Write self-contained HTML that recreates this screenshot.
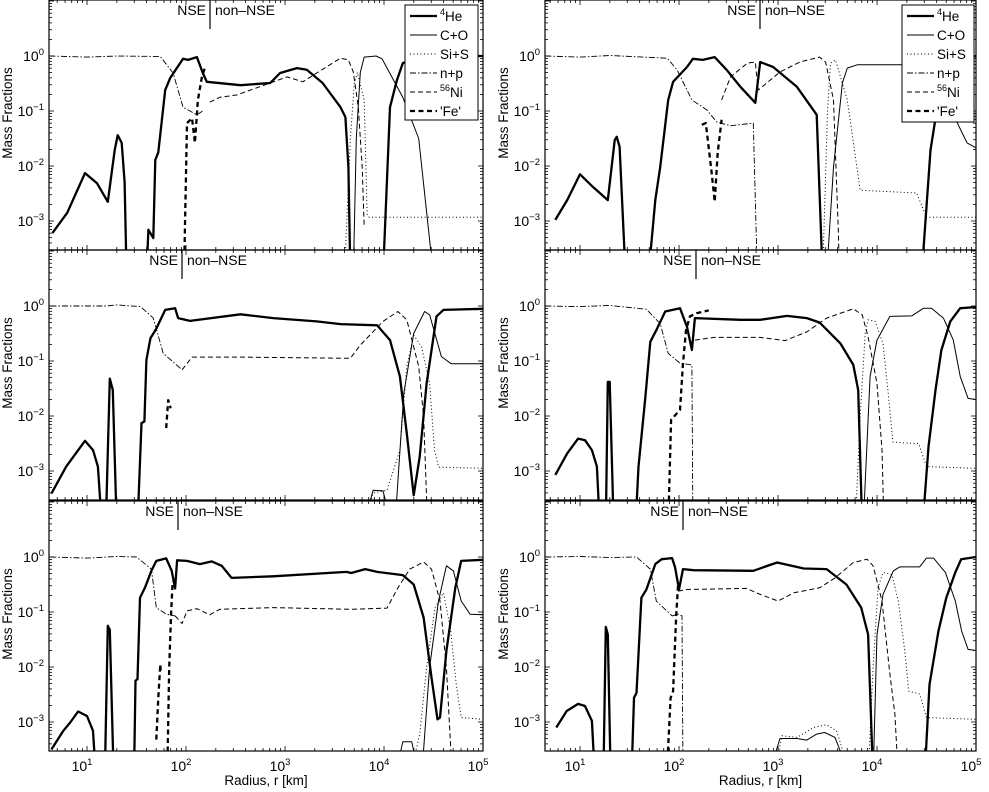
<!DOCTYPE html>
<html><head><meta charset="utf-8">
<style>
body{margin:0;background:#fff;}
svg{display:block;font-family:"Liberation Sans",sans-serif;}
</style></head>
<body>
<svg id="chart" width="989" height="792" xmlns="http://www.w3.org/2000/svg"></svg>
<script>
// Data: [log10 radius(km), log10 mass fraction]; null breaks a line
const p1_he=[[0.65,-3.22],[0.80,-2.85],[0.98,-2.13],[1.10,-2.31],[1.21,-2.65],[1.28,-1.71],[1.31,-1.44],[1.35,-1.58],[1.38,-2.29],[1.40,-4],null,[1.60,-4],[1.62,-3.16],[1.67,-3.31],[1.69,-1.89],[1.72,-1.75],[1.79,-0.62],[1.84,-0.40],[1.97,-0.05],[2.02,-0.07],[2.11,-0.02],[2.17,-0.31],[2.21,-0.47],[2.55,-0.53],[2.85,-0.49],[2.95,-0.31],[3.12,-0.22],[3.22,-0.25],[3.38,-0.49],[3.56,-0.93],[3.61,-1.11],[3.64,-2.02],[3.66,-4],null,[3.99,-4],[4.06,-0.93],[4.13,-0.44],[4.19,-0.13],[4.4,0],[5.0,0]];
const p1_co=[[3.69,-4],[3.72,-1.5],[3.76,-0.3],[3.80,-0.02],[3.92,0],[3.98,-0.05],[4.19,-0.75],[4.35,-1.5],[4.5,-4]];
const p1_si=[[3.60,-4],[3.66,-1.5],[3.70,-0.5],[3.73,-0.3],[3.80,-0.8],[3.83,-2.9],[3.85,-2.93],[5.0,-2.93]];
const p1_np=[[0.62,0],[1.0,-0.02],[1.3,0.0],[1.74,-0.01],[1.87,-0.31],[1.97,-0.93],[2.11,-1.07],[2.17,-1.0]];
const p1_ni=[[2.24,-0.84],[2.34,-0.75],[2.51,-0.71],[2.85,-0.49],[3.02,-0.38],[3.18,-0.47],[3.32,-0.31],[3.56,-0.04],[3.64,-0.07],[3.69,-0.29],[3.74,-0.93],[3.78,-2.02],[3.80,-3.11]];
const p1_fe=[[1.98,-4],[2.01,-1.22],[2.06,-1.13],[2.09,-1.58],[2.12,-0.8],[2.16,-0.38],[2.19,-0.22]];

const p2_he=[[0.64,-3.41],[0.79,-2.92],[0.98,-2.45],[1.06,-2.62],[1.11,-2.92],[1.15,-4],null,[1.19,-4],[1.23,-1.32],[1.26,-1.53],[1.30,-4],null,[1.51,-4],[1.55,-2.13],[1.58,-2.1],[1.60,-0.98],[1.64,-0.59],[1.70,-0.41],[1.79,-0.07],[1.89,-0.04],[1.92,-0.22],[2.04,-0.27],[2.55,-0.15],[2.88,-0.22],[3.32,-0.28],[3.56,-0.33],[3.93,-0.35],[4.06,-0.62],[4.16,-1.28],[4.23,-2.32],[4.30,-3.44],[4.36,-2.74],[4.43,-1.41],[4.53,-0.19],[4.60,-0.07],[5.0,-0.05]];
const p2_co=[[3.79,-4],[3.89,-3.35],[3.99,-3.36],[4.08,-4],null,[4.11,-4],[4.20,-1.59],[4.30,-0.5],[4.41,-0.1],[4.46,-0.16],[4.58,-0.92],[4.68,-1.05],[5.0,-1.05]];
const p2_si=[[3.80,-4],[3.89,-3.4],[4.03,-3.35],[4.16,-2.62],[4.23,-1.1],[4.30,-0.53],[4.38,-0.74],[4.46,-1.41],[4.51,-2.62],[4.55,-2.93],[5.0,-2.95]];
const p2_np=[[0.63,0],[1.2,0],[1.3,0.02],[1.54,-0.01],[1.67,-0.22],[1.77,-0.86],[1.96,-1.16]];
const p2_ni=[[1.96,-1.16],[2.06,-0.93],[2.55,-0.93],[3.66,-0.95],[3.76,-0.71],[3.99,-0.28],[4.14,-0.1],[4.23,-0.25],[4.35,-1.1],[4.40,-2.01],[4.44,-4]];
const p2_fe=[[1.80,-2.22],[1.82,-1.71],[1.845,-1.86]];

const p3_he=[[0.64,-3.5],[0.76,-3.16],[0.83,-3.01],[0.91,-2.81],[1.0,-2.89],[1.06,-3.16],[1.09,-4],null,[1.18,-4],[1.21,-1.25],[1.23,-1.32],[1.27,-4],null,[1.475,-4],[1.49,-2.25],[1.51,-2.22],[1.535,-0.74],[1.585,-0.56],[1.65,-0.25],[1.70,-0.07],[1.80,-0.025],[1.855,-0.25],[1.89,-0.57],[1.91,-0.06],[2.01,-0.07],[2.14,-0.13],[2.26,-0.08],[2.36,-0.16],[2.46,-0.38],[2.88,-0.35],[3.62,-0.27],[3.67,-0.29],[3.81,-0.22],[3.93,-0.27],[4.19,-0.33],[4.30,-0.5],[4.40,-1.1],[4.48,-2.19],[4.54,-2.95],[4.565,-2.92],[4.63,-1.71],[4.72,-0.56],[4.78,-0.07],[5.0,-0.05]];
const p3_co=[[4.11,-4],[4.19,-3.36],[4.28,-3.36],[4.36,-4],null,[4.38,-4],[4.46,-2.01],[4.55,-0.8],[4.63,-0.16],[4.70,-0.25],[4.78,-0.8],[4.87,-1.04],[5.0,-1.05]];
const p3_si=[[4.26,-4],[4.36,-3.22],[4.43,-2.01],[4.515,-0.92],[4.60,-0.65],[4.67,-1.28],[4.73,-2.32],[4.78,-2.92],[5.0,-2.95]];
const p3_np=[[0.63,0],[1.0,-0.02],[1.3,0.01],[1.50,0],[1.65,-0.22],[1.70,-0.92],[1.80,-1.04],[1.89,-1.07]];
const p3_ni=[[1.89,-1.07],[1.96,-1.21],[2.01,-0.98],[2.11,-0.94],[2.24,-1.05],[2.34,-0.95],[2.88,-0.92],[3.66,-0.95],[4.03,-0.93],[4.14,-0.56],[4.26,-0.22],[4.40,-0.09],[4.48,-0.22],[4.565,-0.8],[4.63,-2.01],[4.69,-4]];
const p3_fe=[[1.70,-3.32],[1.72,-2.56],[1.74,-1.95],[1.745,-2.13],null,[1.81,-4],[1.83,-2.01],[1.85,-0.98],[1.865,-0.44]];

const p4_he=[[0.75,-2.98],[0.87,-2.62],[1.0,-2.15],[1.13,-2.38],[1.28,-2.62],[1.35,-1.53],[1.37,-1.47],[1.40,-1.65],[1.46,-4],null,[1.69,-4],[1.76,-2.62],[1.81,-2.02],[1.89,-0.8],[1.94,-0.47],[2.08,-0.2],[2.14,-0.05],[2.24,-0.07],[2.36,-0.02],[2.48,-0.25],[2.62,-0.56],[2.77,-0.85],[2.82,-0.11],[2.95,-0.2],[3.19,-0.56],[3.39,-1.07],[3.45,-4],null,[4.45,-4],[4.54,-1.71],[4.62,-0.8],[4.75,-0.1],[5.0,0]];
const p4_co=[[3.49,-4],[3.56,-2.02],[3.65,-0.49],[3.70,-0.22],[3.80,-0.16],[4.25,-0.16],[4.5,-0.3],[4.7,-0.8],[4.86,-1.4],[4.91,-1.58],[5.0,-1.67]];
const p4_si=[[3.45,-4],[3.50,-1],[3.53,-0.13],[3.58,-0.07],[3.70,-0.8],[3.83,-2.44],[4.40,-2.49],[4.50,-2.93],[5.0,-2.93]];
const p4_np=[[0.65,0],[1.0,-0.02],[1.3,0.01],[1.88,-0.04],[1.98,-0.25],[2.13,-0.8],[2.28,-0.98],[2.38,-1.2],[2.52,-1.27],[2.75,-1.22],[2.79,-4]];
const p4_ni=[[2.43,-0.8],[2.52,-0.38],[2.69,-0.13],[2.77,-0.11],[2.80,-0.62],[3.02,-0.29],[3.22,-0.11],[3.42,-0.02],[3.48,-0.11],[3.56,-0.8],[3.61,-3.22],[3.62,-4]];
const p4_fe=[[2.23,-1.25],[2.27,-1.22],[2.33,-2.13],[2.36,-2.65],[2.39,-1.76],[2.43,-1.16]];

const p5_he=[[0.75,-3.07],[0.87,-2.68],[0.98,-2.41],[1.05,-2.44],[1.12,-2.62],[1.17,-2.92],[1.20,-4],null,[1.26,-4],[1.28,-1.38],[1.30,-1.38],[1.34,-4],null,[1.56,-4],[1.59,-2.92],[1.66,-1.65],[1.71,-0.65],[1.77,-0.44],[1.86,-0.1],[2.01,-0.04],[2.08,-0.38],[2.13,-0.8],[2.16,-0.22],[2.62,-0.25],[2.82,-0.25],[3.09,-0.18],[3.29,-0.22],[3.42,-0.3],[3.63,-0.68],[3.76,-1.07],[3.81,-1.53],[3.85,-4],null,[4.46,-4],[4.52,-2.56],[4.59,-1.53],[4.65,-0.8],[4.74,-0.28],[4.84,-0.04],[5.0,-0.02]];
const p5_co=[[3.86,-4],[3.93,-1.28],[4.0,-0.62],[4.13,-0.19],[4.35,-0.18],[4.47,-0.04],[4.55,-0.04],[4.67,-0.22],[4.77,-0.62],[4.84,-1.28],[4.92,-1.68],[5.0,-1.7]];
const p5_si=[[3.78,-4],[3.83,-2.01],[3.88,-0.5],[3.91,-0.25],[3.98,-0.28],[4.06,-0.68],[4.11,-1.53],[4.16,-2.47],[4.28,-2.49],[4.42,-2.5],[4.5,-2.92],[5.0,-2.95]];
const p5_np=[[0.65,0],[1.0,-0.01],[1.3,0.01],[1.67,-0.06],[1.81,-0.32],[1.89,-0.86],[2.01,-1.04],[2.13,-1.07],[2.14,-4]];
const p5_ni=[[2.16,-0.62],[2.35,-0.57],[2.82,-0.57],[3.07,-0.63],[3.29,-0.47],[3.49,-0.22],[3.76,-0.05],[3.85,-0.16],[3.91,-0.56],[4.0,-1.41],[4.05,-2.62],[4.07,-4]];
const p5_fe=[[1.89,-4],[1.92,-2.07],[2.01,-1.89],[2.04,-1.04],[2.07,-0.44],[2.11,-0.19],[2.18,-0.13],[2.30,-0.08]];

const p6_he=[[0.76,-3.1],[0.865,-2.8],[0.98,-2.67],[1.05,-2.71],[1.12,-2.98],[1.15,-4],null,[1.236,-4],[1.26,-1.27],[1.28,-1.41],[1.31,-4],null,[1.52,-4],[1.545,-2.56],[1.57,-2.47],[1.62,-0.74],[1.67,-0.59],[1.76,-0.13],[1.825,-0.04],[1.93,-0.02],[1.96,-0.19],[2.0,-0.59],[2.04,-0.22],[2.145,-0.24],[2.75,-0.25],[2.99,-0.1],[3.26,-0.21],[3.49,-0.22],[3.69,-0.5],[3.84,-0.92],[3.91,-1.41],[3.96,-4],null,[4.48,-4],[4.53,-2.32],[4.62,-1.35],[4.70,-0.74],[4.79,-0.28],[4.85,-0.04],[5.0,0]];
const p6_co=[[2.90,-4],[3.02,-3.3],[3.19,-3.3],[3.29,-3.33],[3.39,-3.22],[3.47,-3.19],[3.575,-3.28],[3.73,-4],null,[3.96,-4],[4.0,-1.41],[4.06,-0.68],[4.165,-0.25],[4.23,-0.18],[4.43,-0.18],[4.50,-0.02],[4.57,-0.02],[4.69,-0.28],[4.79,-0.8],[4.855,-1.35],[4.92,-1.68],[5.0,-1.7]];
const p6_si=[[2.95,-4],[3.04,-3.25],[3.19,-3.28],[3.36,-3.1],[3.49,-3.05],[3.59,-3.16],[3.74,-4],null,[3.91,-4],[3.96,-2.01],[4.01,-0.56],[4.06,-0.28],[4.15,-0.32],[4.215,-0.8],[4.28,-1.71],[4.32,-2.44],[4.43,-2.49],[4.5,-2.92],[5.0,-2.95]];
const p6_np=[[0.65,0],[1.0,0.01],[1.3,-0.01],[1.57,0],[1.71,-0.22],[1.77,-0.8],[1.93,-1.07],[1.99,-1.04],[2.03,-1.07],[2.04,-4]];
const p6_ni=[[1.99,-0.62],[2.08,-0.59],[2.68,-0.57],[2.82,-0.68],[3.0,-0.8],[3.16,-0.65],[3.42,-0.56],[3.575,-0.38],[3.76,-0.1],[3.90,-0.04],[3.96,-0.16],[4.05,-0.8],[4.13,-2.13],[4.18,-2.86],[4.215,-4]];
const p6_fe=[[1.875,-4],[1.915,-2.56],[1.94,-2.44],[1.97,-1.1],[1.99,-0.5]];

const xTickLabels=["1","2","3","4","5"];
const yTickLabels=["0","-1","-2","-3"];
const legendLabels=["He","C+O","Si+S","n+p","Ni","'Fe'"];

const NS="http://www.w3.org/2000/svg";
const svg=document.getElementById('chart');
function mk(tag,attrs,parent){const e=document.createElementNS(NS,tag);for(const k in attrs)e.setAttribute(k,attrs[k]);(parent||svg).appendChild(e);return e;}

const styles={
 he:{w:2.3,dash:null},co:{w:1,dash:null},si:{w:1,dash:"1,2.5"},
 np:{w:0.9,dash:"6,2,1.5,2"},ni:{w:1,dash:"5,3"},fe:{w:2.3,dash:"5,3.5"}
};
const panels=[
 {id:1,x0:49,x1:483,l0:0.616,top:0,nse:210,data:{he:p1_he,co:p1_co,si:p1_si,np:p1_np,ni:p1_ni,fe:p1_fe},legend:[405,5,73,115],xl:false},
 {id:2,x0:49,x1:483,l0:0.616,top:250,nse:182,data:{he:p2_he,co:p2_co,si:p2_si,np:p2_np,ni:p2_ni,fe:p2_fe},xl:false},
 {id:3,x0:49,x1:483,l0:0.616,top:501,nse:178,data:{he:p3_he,co:p3_co,si:p3_si,np:p3_np,ni:p3_ni,fe:p3_fe},xl:true},
 {id:4,x0:545,x1:976,l0:0.646,top:0,nse:760,data:{he:p4_he,co:p4_co,si:p4_si,np:p4_np,ni:p4_ni,fe:p4_fe},legend:[902,5,72,117],xl:false},
 {id:5,x0:545,x1:976,l0:0.646,top:250,nse:696,data:{he:p5_he,co:p5_co,si:p5_si,np:p5_np,ni:p5_ni,fe:p5_fe},xl:false},
 {id:6,x0:545,x1:976,l0:0.646,top:501,nse:683,data:{he:p6_he,co:p6_co,si:p6_si,np:p6_np,ni:p6_ni,fe:p6_fe},xl:true}
];
const H=250, PXD=99, PYD=55;

panels.forEach(p=>{
 const X=lr=>p.x0+(lr-p.l0)*PXD;
 const Y=lx=>p.top+56-PYD*lx;
 const g=mk('g',{});
 
 
 const cp=mk('clipPath',{id:'clip'+p.id},g);
 mk('rect',{x:p.x0,y:p.top,width:p.x1-p.x0,height:H},cp);
 const sg=mk('g',{'clip-path':'url(#clip'+p.id+')'},g);
 ['np','ni','si','co','fe','he'].forEach(k=>{
  const arr=p.data[k];let d='',pen=false;
  arr.forEach(pt=>{if(!pt){pen=false;return;}d+=(pen?'L':'M')+X(pt[0]).toFixed(1)+','+Y(pt[1]).toFixed(1);pen=true;});
  const path=mk('path',{d:d,fill:'none',stroke:'#000','stroke-width':styles[k].w,'stroke-linejoin':'round'},sg);
  if(styles[k].dash)path.setAttribute('stroke-dasharray',styles[k].dash);
  
  
 });
 const tg=mk('g',{stroke:'#000','stroke-width':0.8},g);
 for(let e=0;e<=5;e++){for(let m=1;m<10;m++){
  const v=e+Math.log10(m);if(v<p.l0||v>5.001)continue;
  const x=X(v),len=m===1?5:3;
  mk('line',{x1:x,x2:x,y1:p.top+H,y2:p.top+H-len},tg);
  mk('line',{x1:x,x2:x,y1:p.top,y2:p.top+len},tg);
 }}
 for(let e=-4;e<=1;e++){for(let m=1;m<10;m++){
  const v=e+Math.log10(m);const y=Y(v);if(y<p.top+0.5||y>p.top+H-0.5)continue;
  const len=m===1?5:3;
  mk('line',{x1:p.x0,x2:p.x0+len,y1:y,y2:y},tg);
  mk('line',{x1:p.x1,x2:p.x1-len,y1:y,y2:y},tg);
 }}
 const fr=mk('rect',{x:p.x0,y:p.top,width:p.x1-p.x0,height:H,fill:'none',stroke:'#000','stroke-width':1.2},g);
 
 
 yTickLabels.forEach(s=>{
  const t=mk('text',{x:p.x0-5,y:Y(+s)+5,'font-size':14,'text-anchor':'end'},g);
  t.textContent='10';
  const sp=mk('tspan',{dy:-6,'font-size':9.5},t);sp.textContent=s.replace('-','\u2212');
  
  
 });
 const yt=mk('text',{x:0,y:0,'font-size':13.5,'text-anchor':'middle',transform:'translate('+(p.x0<100?12:508)+','+(p.top+113)+') rotate(-90)'},g);
 yt.textContent='Mass Fractions';
 
 
 if(p.xl){
  xTickLabels.forEach(s=>{
   const t=mk('text',{x:X(+s)-5,y:p.top+H+20,'font-size':14,'text-anchor':'middle'},g);
   t.textContent='10';
   const sp=mk('tspan',{dy:-6,'font-size':9.5},t);sp.textContent=s;
   
   
  });
  const xt=mk('text',{x:(p.x0+p.x1)/2,y:785,'font-size':13.5,'text-anchor':'middle'},g);
  xt.textContent='Radius, r [km]';
  
  
 }
 const nl=mk('line',{x1:p.nse,x2:p.nse,y1:p.top,y2:p.top+29,stroke:'#000','stroke-width':1.2},g);
 
 
 const n1=mk('text',{x:p.nse-4,y:p.top+15,'font-size':14,'text-anchor':'end'},g);n1.textContent='NSE';
 
 
 const n2=mk('text',{x:p.nse+5,y:p.top+15,'font-size':14},g);n2.textContent='non\u2013NSE';
 
 
 if(p.legend){
  const [lx,ly,lw,lh]=p.legend;
  const lg=mk('g',{},g);
  
  
  mk('rect',{x:lx,y:ly,width:lw,height:lh,fill:'#fff',stroke:'#000','stroke-width':1},lg);
  ['he','co','si','np','ni','fe'].forEach((k,i)=>{
   const yy=ly+11+i*19;
   const e=mk('g',{},lg);
   
   
   const l=mk('line',{x1:lx+5,x2:lx+32,y1:yy,y2:yy,stroke:'#000','stroke-width':styles[k].w},e);
   if(styles[k].dash)l.setAttribute('stroke-dasharray',styles[k].dash);
   const t=mk('text',{x:lx+35,y:yy+5,'font-size':13.5},e);
   if(k==='he'){const s=mk('tspan',{dy:-6,'font-size':9},t);s.textContent='4';const s2=mk('tspan',{dy:6},t);s2.textContent=legendLabels[0];}
   else if(k==='ni'){const s=mk('tspan',{dy:-6,'font-size':9},t);s.textContent='56';const s2=mk('tspan',{dy:6},t);s2.textContent=legendLabels[4];}
   else t.textContent=legendLabels[i];
  });
 }
});
</script>
</body></html>
